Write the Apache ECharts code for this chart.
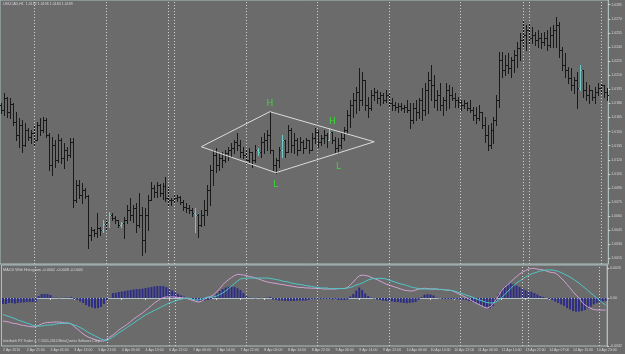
<!DOCTYPE html>
<html><head><meta charset="utf-8">
<script src="https://cdn.jsdelivr.net/npm/echarts@6/dist/echarts.min.js"></script>
<style>html,body{margin:0;padding:0;background:#6b6b6b;}#c{width:625px;height:354px;}</style>
</head><body><div id="c"></div>
<script>
const tickLabels = ["2 Apr 2010","2 Apr 21:00","3 Apr 05:00","3 Apr 13:00","3 Apr 21:00","4 Apr 05:00","4 Apr 13:00","6 Apr 22:00","7 Apr 06:00","7 Apr 14:00","7 Apr 22:00","8 Apr 06:00","8 Apr 14:00","8 Apr 22:00","9 Apr 06:00","9 Apr 14:00","9 Apr 22:00","10 Apr 06:00","10 Apr 14:00","10 Apr 22:00","11 Apr 06:00","11 Apr 14:00","13 Apr 22:00","14 Apr 07:00","14 Apr 15:00","14 Apr 23:00"];
const priceTicks = [1.0015,1.0030,1.0045,1.0060,1.0075,1.0090,1.0105,1.0120,1.0135,1.0150,1.0165,1.0180,1.0195,1.0210,1.0225,1.0240,1.0255,1.0270,1.0285];
const macdTicks = [0.0020, 0, -0.0032];

const opens = [1.0178,1.0173,1.0186,1.0171,1.0179,1.0160,1.0146,1.0157,1.0136,1.0152,
1.0144,1.0148,1.0141,1.0157,1.0152,1.0162,1.0146,1.0114,1.0136,1.0120,
1.0141,1.0122,1.0130,1.0125,1.0139,1.0077,1.0093,1.0083,1.0088,1.0081,
1.0040,1.0045,1.0042,1.0047,1.0045,1.0052,1.0054,1.0061,1.0058,1.0056,
1.0051,1.0053,1.0056,1.0067,1.0061,1.0069,1.0051,1.0061,1.0035,1.0061,
1.0077,1.0090,1.0086,1.0093,1.0085,1.0092,1.0079,1.0077,1.0077,1.0079,
1.0080,1.0075,1.0070,1.0069,1.0067,1.0063,1.0061,1.0051,1.0061,1.0067,
1.0088,1.0109,1.0125,1.0114,1.0122,1.0120,1.0127,1.0130,1.0133,1.0139,
1.0136,1.0128,1.0125,1.0120,1.0128,1.0120,1.0130,1.0128,1.0139,1.0141,
1.0146,1.0130,1.0114,1.0120,1.0130,1.0141,1.0128,1.0152,1.0136,1.0141,
1.0130,1.0139,1.0133,1.0141,1.0130,1.0143,1.0150,1.0139,1.0143,1.0146,
1.0141,1.0150,1.0141,1.0133,1.0136,1.0143,1.0152,1.0168,1.0178,1.0184,
1.0192,1.0184,1.0205,1.0178,1.0175,1.0189,1.0192,1.0186,1.0189,1.0184,
1.0189,1.0180,1.0178,1.0176,1.0177,1.0175,1.0176,1.0173,1.0162,1.0175,
1.0171,1.0184,1.0173,1.0194,1.0205,1.0200,1.0184,1.0189,1.0178,1.0184,
1.0194,1.0189,1.0186,1.0184,1.0181,1.0178,1.0180,1.0175,1.0173,1.0168,
1.0164,1.0171,1.0157,1.0146,1.0136,1.0152,1.0162,1.0184,1.0226,1.0216,
1.0221,1.0218,1.0226,1.0231,1.0239,1.0247,1.0253,1.0258,1.0250,1.0253,
1.0247,1.0250,1.0245,1.0250,1.0242,1.0253,1.0258,1.0263,1.0237,1.0221,
1.0216,1.0207,1.0200,1.0205,1.0196,1.0216,1.0194,1.0189,1.0194,1.0187,
1.0192,1.0196,1.0200,1.0192];
const highs = [1.0180,1.0191,1.0187,1.0186,1.0180,1.0171,1.0164,1.0162,1.0159,1.0154,
1.0152,1.0156,1.0160,1.0164,1.0166,1.0164,1.0148,1.0144,1.0141,1.0147,
1.0143,1.0138,1.0134,1.0143,1.0143,1.0098,1.0098,1.0095,1.0090,1.0083,
1.0048,1.0046,1.0063,1.0048,1.0056,1.0056,1.0064,1.0063,1.0060,1.0056,
1.0054,1.0059,1.0072,1.0079,1.0072,1.0074,1.0085,1.0070,1.0069,1.0083,
1.0096,1.0093,1.0096,1.0094,1.0095,1.0102,1.0091,1.0079,1.0083,1.0083,
1.0081,1.0077,1.0074,1.0072,1.0069,1.0069,1.0062,1.0067,1.0077,1.0093,
1.0114,1.0130,1.0133,1.0127,1.0128,1.0130,1.0134,1.0138,1.0141,1.0148,
1.0141,1.0134,1.0130,1.0133,1.0128,1.0136,1.0133,1.0144,1.0148,1.0152,
1.0171,1.0130,1.0122,1.0134,1.0146,1.0141,1.0157,1.0154,1.0148,1.0143,
1.0144,1.0141,1.0143,1.0141,1.0148,1.0154,1.0152,1.0146,1.0152,1.0148,
1.0154,1.0150,1.0144,1.0143,1.0148,1.0155,1.0173,1.0184,1.0191,1.0197,
1.0218,1.0213,1.0205,1.0187,1.0194,1.0196,1.0194,1.0192,1.0191,1.0194,
1.0191,1.0186,1.0181,1.0180,1.0180,1.0178,1.0184,1.0180,1.0180,1.0184,
1.0186,1.0196,1.0202,1.0213,1.0221,1.0210,1.0194,1.0202,1.0187,1.0202,
1.0200,1.0197,1.0191,1.0187,1.0184,1.0184,1.0181,1.0184,1.0176,1.0176,
1.0178,1.0171,1.0166,1.0157,1.0159,1.0166,1.0189,1.0235,1.0235,1.0231,
1.0234,1.0229,1.0237,1.0245,1.0255,1.0269,1.0263,1.0266,1.0261,1.0256,
1.0258,1.0255,1.0256,1.0258,1.0261,1.0263,1.0272,1.0267,1.0240,1.0234,
1.0219,1.0218,1.0208,1.0213,1.0221,1.0216,1.0203,1.0200,1.0194,1.0197,
1.0202,1.0202,1.0200,1.0196];
const lows = [1.0170,1.0168,1.0166,1.0164,1.0157,1.0141,1.0134,1.0128,1.0135,1.0141,
1.0138,1.0136,1.0141,1.0146,1.0150,1.0144,1.0109,1.0104,1.0112,1.0118,
1.0117,1.0111,1.0120,1.0123,1.0070,1.0075,1.0079,1.0074,1.0079,1.0026,
1.0035,1.0039,1.0038,1.0040,1.0043,1.0045,1.0048,1.0056,1.0053,1.0048,
1.0048,1.0037,1.0053,1.0056,1.0054,1.0043,1.0048,1.0019,1.0022,1.0045,
1.0077,1.0080,1.0080,1.0081,1.0078,1.0076,1.0071,1.0072,1.0074,1.0076,
1.0073,1.0067,1.0064,1.0063,1.0060,1.0043,1.0038,1.0050,1.0051,1.0061,
1.0072,1.0093,1.0107,1.0109,1.0112,1.0118,1.0120,1.0123,1.0127,1.0130,
1.0123,1.0122,1.0117,1.0118,1.0112,1.0118,1.0125,1.0123,1.0127,1.0130,
1.0127,1.0109,1.0106,1.0112,1.0123,1.0123,1.0128,1.0128,1.0127,1.0125,
1.0130,1.0127,1.0133,1.0127,1.0130,1.0138,1.0134,1.0136,1.0138,1.0134,
1.0141,1.0138,1.0128,1.0127,1.0133,1.0141,1.0148,1.0155,1.0166,1.0170,
1.0173,1.0178,1.0173,1.0166,1.0173,1.0184,1.0180,1.0178,1.0180,1.0181,
1.0176,1.0173,1.0173,1.0171,1.0173,1.0171,1.0171,1.0154,1.0159,1.0162,
1.0164,1.0162,1.0168,1.0170,1.0184,1.0176,1.0173,1.0173,1.0168,1.0173,
1.0175,1.0184,1.0176,1.0176,1.0173,1.0175,1.0173,1.0171,1.0162,1.0159,
1.0162,1.0154,1.0139,1.0130,1.0133,1.0138,1.0157,1.0176,1.0208,1.0210,
1.0212,1.0208,1.0213,1.0219,1.0226,1.0240,1.0237,1.0244,1.0244,1.0242,
1.0240,1.0239,1.0242,1.0237,1.0240,1.0240,1.0240,1.0229,1.0216,1.0208,
1.0202,1.0194,1.0191,1.0175,1.0194,1.0187,1.0184,1.0180,1.0184,1.0180,
1.0189,1.0191,1.0187,1.0184];
const closes = [1.0173,1.0186,1.0171,1.0179,1.0160,1.0146,1.0157,1.0136,1.0152,1.0144,
1.0148,1.0141,1.0157,1.0152,1.0162,1.0146,1.0114,1.0136,1.0120,1.0141,
1.0122,1.0130,1.0125,1.0139,1.0077,1.0093,1.0083,1.0088,1.0081,1.0040,
1.0045,1.0042,1.0047,1.0045,1.0052,1.0054,1.0061,1.0058,1.0056,1.0051,
1.0053,1.0056,1.0067,1.0061,1.0069,1.0051,1.0061,1.0035,1.0061,1.0077,
1.0090,1.0086,1.0093,1.0085,1.0092,1.0079,1.0077,1.0077,1.0079,1.0080,
1.0075,1.0070,1.0069,1.0067,1.0063,1.0061,1.0051,1.0061,1.0067,1.0088,
1.0109,1.0125,1.0114,1.0122,1.0120,1.0127,1.0130,1.0133,1.0139,1.0136,
1.0128,1.0125,1.0120,1.0128,1.0120,1.0130,1.0128,1.0139,1.0141,1.0146,
1.0130,1.0114,1.0120,1.0130,1.0141,1.0128,1.0152,1.0136,1.0141,1.0130,
1.0139,1.0133,1.0141,1.0130,1.0143,1.0150,1.0139,1.0143,1.0146,1.0141,
1.0150,1.0141,1.0133,1.0136,1.0143,1.0152,1.0168,1.0178,1.0184,1.0192,
1.0184,1.0205,1.0178,1.0175,1.0189,1.0192,1.0186,1.0189,1.0184,1.0189,
1.0180,1.0178,1.0176,1.0177,1.0175,1.0176,1.0173,1.0162,1.0175,1.0171,
1.0184,1.0173,1.0194,1.0205,1.0200,1.0184,1.0189,1.0178,1.0184,1.0194,
1.0189,1.0186,1.0184,1.0181,1.0178,1.0180,1.0175,1.0173,1.0168,1.0164,
1.0171,1.0157,1.0146,1.0136,1.0152,1.0162,1.0184,1.0226,1.0216,1.0221,
1.0218,1.0226,1.0231,1.0239,1.0247,1.0253,1.0258,1.0250,1.0253,1.0247,
1.0250,1.0245,1.0250,1.0242,1.0253,1.0258,1.0263,1.0237,1.0221,1.0216,
1.0207,1.0200,1.0205,1.0196,1.0216,1.0194,1.0189,1.0194,1.0187,1.0192,
1.0196,1.0200,1.0192,1.0189];
const cyanBars = [34,36,40,65,86,94,110,194];
const separators = [11,35,56,58,82,106,130,154,175,177,201];
const diamondIdx = [67,90,125,92,67];
const diamondPrice = [1.01339,1.01712,1.01392,1.01063,1.01339];
const patternIdx = [90,92,111,113];
const patternPrice = [1.01797,1.00935,1.01605,1.01126];
const patternText = ['H','L','H','L'];

const macdSignal = [-0.00110,-0.00117,-0.00123,-0.00130,-0.00137,-0.00147,-0.00153,-0.00160,-0.00167,-0.00173,
-0.00183,-0.00187,-0.00187,-0.00187,-0.00183,-0.00180,-0.00180,-0.00177,-0.00173,-0.00170,
-0.00170,-0.00167,-0.00167,-0.00173,-0.00180,-0.00187,-0.00197,-0.00207,-0.00220,-0.00233,
-0.00243,-0.00253,-0.00263,-0.00273,-0.00280,-0.00283,-0.00273,-0.00260,-0.00247,-0.00233,
-0.00220,-0.00207,-0.00193,-0.00180,-0.00167,-0.00153,-0.00140,-0.00127,-0.00113,-0.00103,
-0.00093,-0.00083,-0.00073,-0.00063,-0.00053,-0.00043,-0.00033,-0.00027,-0.00020,-0.00013,
-0.00007,-0.00003,0,-0.00003,-0.00010,-0.00013,-0.00013,-0.00007,0,0.00007,
0.00003,0.00007,0.00013,0.00023,0.00033,0.00047,0.00063,0.00080,0.00097,0.00113,
0.00127,0.00130,0.00133,0.00133,0.00133,0.00133,0.00133,0.00133,0.00133,0.00133,
0.00130,0.00127,0.00123,0.00120,0.00113,0.00110,0.00107,0.00100,0.00097,0.00093,
0.00090,0.00087,0.00083,0.00080,0.00077,0.00073,0.00070,0.00067,0.00067,0.00067,
0.00063,0.00063,0.00063,0.00063,0.00063,0.00063,0.00067,0.00070,0.00077,0.00087,
0.00093,0.00100,0.00110,0.00120,0.00127,0.00130,0.00131,0.00131,0.00130,0.00127,
0.00120,0.00113,0.00107,0.00100,0.00093,0.00090,0.00083,0.00077,0.00070,0.00067,
0.00063,0.00060,0.00060,0.00060,0.00060,0.00060,0.00060,0.00057,0.00057,0.00053,
0.00053,0.00050,0.00047,0.00040,0.00033,0.00027,0.00020,0.00013,0.00007,-0.00003,
-0.00010,-0.00017,-0.00023,-0.00030,-0.00033,-0.00033,-0.00027,-0.00013,0.00003,0.00023,
0.00043,0.00063,0.00083,0.00100,0.00113,0.00127,0.00140,0.00150,0.00160,0.00167,
0.00173,0.00180,0.00183,0.00187,0.00187,0.00187,0.00183,0.00177,0.00170,0.00160,
0.00150,0.00140,0.00127,0.00113,0.00100,0.00083,0.00067,0.00050,0.00033,0.00017,
0,-0.00017,-0.00033,-0.00047];
const macdMain = [-0.00153,-0.00157,-0.00160,-0.00167,-0.00170,-0.00173,-0.00180,-0.00183,-0.00187,-0.00190,
-0.00193,-0.00190,-0.00183,-0.00173,-0.00167,-0.00163,-0.00163,-0.00160,-0.00160,-0.00160,
-0.00163,-0.00167,-0.00167,-0.00173,-0.00190,-0.00207,-0.00223,-0.00240,-0.00253,-0.00263,
-0.00270,-0.00277,-0.00283,-0.00287,-0.00287,-0.00273,-0.00260,-0.00247,-0.00233,-0.00213,
-0.00200,-0.00187,-0.00173,-0.00157,-0.00140,-0.00127,-0.00113,-0.00100,-0.00083,-0.00067,
-0.00050,-0.00033,-0.00020,-0.00007,0.00003,0.00007,0.00007,0.00007,0.00007,0.00003,
0.00003,0,-0.00003,-0.00010,-0.00017,-0.00023,-0.00027,-0.00020,-0.00007,0.00003,
0.00010,0.00023,0.00040,0.00063,0.00087,0.00107,0.00123,0.00137,0.00150,0.00157,
0.00157,0.00153,0.00150,0.00143,0.00140,0.00133,0.00127,0.00120,0.00113,0.00107,
0.00103,0.00100,0.00097,0.00093,0.00090,0.00087,0.00083,0.00080,0.00077,0.00073,
0.00070,0.00070,0.00067,0.00067,0.00065,0.00065,0.00063,0.00063,0.00060,0.00060,
0.00060,0.00060,0.00060,0.00063,0.00063,0.00063,0.00070,0.00087,0.00107,0.00130,
0.00147,0.00153,0.00150,0.00147,0.00137,0.00130,0.00123,0.00113,0.00103,0.00093,
0.00087,0.00080,0.00073,0.00067,0.00060,0.00053,0.00050,0.00047,0.00047,0.00053,
0.00060,0.00063,0.00065,0.00063,0.00060,0.00060,0.00060,0.00057,0.00057,0.00053,
0.00053,0.00050,0.00043,0.00033,0.00023,0.00013,0.00003,-0.00007,-0.00020,-0.00030,
-0.00040,-0.00050,-0.00060,-0.00067,-0.00060,-0.00040,-0.00013,0.00017,0.00050,0.00073,
0.00087,0.00107,0.00127,0.00143,0.00160,0.00173,0.00183,0.00193,0.00197,0.00197,
0.00193,0.00190,0.00187,0.00180,0.00173,0.00170,0.00167,0.00153,0.00133,0.00113,
0.00090,0.00067,0.00043,0.00020,0,-0.00027,-0.00047,-0.00060,-0.00070,-0.00077,
-0.00080,-0.00080,-0.00080,-0.00080];
const macdHist = [-0.00040,-0.00040,-0.00033,-0.00033,-0.00037,-0.00033,-0.00030,-0.00030,-0.00027,-0.00027,
-0.00027,-0.00027,0.00013,0.00027,0.00027,0.00027,0.00020,0.00003,0.00003,-0.00002,
0.00002,0.00003,0.00003,0.00007,-0.00007,-0.00013,-0.00023,-0.00033,-0.00047,-0.00057,
-0.00063,-0.00069,-0.00067,-0.00060,-0.00040,-0.00013,0.00002,0.00033,0.00035,0.00040,
0.00043,0.00047,0.00050,0.00053,0.00057,0.00060,0.00060,0.00063,0.00067,0.00070,
0.00073,0.00077,0.00080,0.00080,0.00080,0.00073,0.00063,0.00050,0.00037,0.00027,
0.00017,0.00009,0.00003,-0.00002,-0.00007,-0.00017,-0.00020,-0.00020,-0.00017,-0.00013,
-0.00007,0.00007,0.00030,0.00047,0.00060,0.00070,0.00075,0.00075,0.00073,0.00065,
0.00053,0.00033,0.00013,0.00003,0.00002,-0.00002,0.00003,-0.00002,0.00002,0.00003,
0.00007,-0.00010,-0.00013,-0.00017,-0.00017,-0.00020,-0.00020,-0.00020,-0.00020,-0.00017,
-0.00017,-0.00017,-0.00017,-0.00013,-0.00010,-0.00007,-0.00007,-0.00007,-0.00007,-0.00007,
-0.00007,-0.00010,-0.00010,-0.00013,-0.00013,-0.00013,-0.00010,0.00010,0.00027,0.00050,
0.00070,0.00053,0.00030,0.00013,0.00003,-0.00003,-0.00010,-0.00013,-0.00017,-0.00020,
-0.00020,-0.00023,-0.00027,-0.00027,-0.00030,-0.00033,-0.00035,-0.00033,-0.00030,-0.00027,
-0.00013,0.00007,0.00023,0.00025,0.00023,0.00017,0.00003,-0.00003,-0.00007,-0.00007,
-0.00007,-0.00007,-0.00007,-0.00007,-0.00010,-0.00010,-0.00013,-0.00020,-0.00027,-0.00033,
-0.00040,-0.00050,-0.00060,-0.00067,-0.00069,-0.00053,-0.00027,0.00027,0.00053,0.00077,
0.00090,0.00097,0.00093,0.00083,0.00073,0.00063,0.00053,0.00047,0.00042,0.00033,
0.00023,0.00013,0.00007,0.00002,-0.00007,-0.00013,-0.00023,-0.00033,-0.00043,-0.00053,
-0.00067,-0.00077,-0.00087,-0.00091,-0.00090,-0.00087,-0.00080,-0.00069,-0.00057,-0.00043,
-0.00033,-0.00027,-0.00023,-0.00020];

const categories = opens.map((_, i) => String(i));
const N = categories.length;
const last = N - 1;
const headerText = 'USDCAD,H1  ' + [opens[last], highs[last], lows[last], closes[last]].map(v => v.toFixed(4)).join(' ');
const macdText = 'MACD With Histogram ' + [macdHist[last], macdMain[last], macdSignal[last]].map(v => v.toFixed(4)).join(' ');

const txt = '#d6d6d6';
const frame = '#aebfbf';
const font = 'Liberation Sans';
const showEvery8 = (idx) => idx % 8 === 0;

function renderOHLC(params, api) {
  const i = api.value(0);
  const cx = Math.round(api.coord([i, api.value(2)])[0]) + 0.5;
  const yH = Math.round(api.coord([i, api.value(2)])[1]);
  const yL = Math.round(api.coord([i, api.value(3)])[1]) + 1;
  const yO = Math.round(api.coord([i, api.value(1)])[1]) + 0.5;
  const yC = Math.round(api.coord([i, api.value(4)])[1]) + 0.5;
  const col = api.value(5) === 1 ? '#6cc8cb' : '#191919';
  return {type: 'group', children: [
    {type: 'line', shape: {x1: cx, y1: yH, x2: cx, y2: yL}, style: {stroke: col, lineWidth: 1}},
    {type: 'line', shape: {x1: cx - 1.5, y1: yO, x2: cx, y2: yO}, style: {stroke: col, lineWidth: 1}},
    {type: 'line', shape: {x1: cx, y1: yC, x2: cx + 1.5, y2: yC}, style: {stroke: col, lineWidth: 1}}
  ]};
}

function renderLabel(params, api) {
  const p = api.coord([api.value(0), api.value(1)]);
  return {type: 'text', x: p[0], y: p[1],
    style: {text: patternText[params.dataIndex], fill: '#3bd83b', font: '9px "DejaVu Sans"', align: 'center', verticalAlign: 'middle'}};
}

const sepLine = {
  silent: true, symbol: ['none', 'none'], label: {show: false}, animation: false,
  lineStyle: {color: '#d2d2d2', type: [1, 2], width: 1},
  emphasis: {disabled: true},
  data: separators.map(i => ({xAxis: i}))
};

const chart = echarts.init(document.getElementById('c'), null, {renderer: 'canvas'});
chart.setOption({
  animation: false,
  backgroundColor: '#6b6b6b',
  title: [
    {text: headerText, left: 3, top: 2, padding: 0, textStyle: {color: txt, fontSize: 3.6, fontWeight: 'normal', fontFamily: font}},
    {text: macdText, left: 3, top: 268, padding: 0, textStyle: {color: txt, fontSize: 3.8, fontWeight: 'normal', fontFamily: font}},
    {text: 'Interbank FX Trader 4, \u00a9 2001-2010 MetaQuotes Software Corp.', left: 3, top: 340, padding: 0, textStyle: {color: txt, fontSize: 3.4, fontWeight: 'normal', fontFamily: font}}
  ],
  grid: [
    {left: 0, top: 0, width: 609, height: 264, show: true, borderColor: frame, borderWidth: 1, backgroundColor: 'transparent'},
    {left: 0, top: 265, width: 609, height: 81, show: true, borderColor: frame, borderWidth: 1, backgroundColor: 'transparent'}
  ],
  xAxis: [
    {type: 'category', gridIndex: 0, data: categories, show: false, boundaryGap: true},
    {type: 'category', gridIndex: 1, data: categories, boundaryGap: true,
      axisLine: {show: true, lineStyle: {color: frame, width: 1}},
      axisTick: {show: true, interval: showEvery8, alignWithLabel: true, length: 2, lineStyle: {color: txt}},
      axisLabel: {show: true, interval: showEvery8, formatter: (v, idx) => tickLabels[idx / 8] || '', align: 'left', margin: 2, fontSize: 3.5, color: txt, fontFamily: font},
      splitLine: {show: false}}
  ],
  yAxis: [
    {type: 'value', gridIndex: 0, position: 'right', min: 1.000915, max: 1.0290,
      axisLine: {show: true, lineStyle: {color: frame}},
      axisTick: {show: true, length: 2, customValues: priceTicks, lineStyle: {color: txt}},
      axisLabel: {show: true, customValues: priceTicks, formatter: v => v.toFixed(4), margin: 3, fontSize: 3.5, color: txt, fontFamily: font},
      splitLine: {show: false}},
    {type: 'value', gridIndex: 1, position: 'right', min: -0.0032, max: 0.0022,
      axisLine: {show: true, lineStyle: {color: frame}},
      axisTick: {show: true, length: 2, customValues: macdTicks, lineStyle: {color: txt}},
      axisLabel: {show: true, customValues: macdTicks, formatter: v => (v === 0 ? '0.00' : v.toFixed(4)), margin: 3, fontSize: 3.5, color: txt, fontFamily: font},
      splitLine: {show: false}}
  ],
  series: [
    {type: 'custom', name: 'USDCAD', xAxisIndex: 0, yAxisIndex: 0, z: 3,
      renderItem: renderOHLC,
      encode: {x: 0, y: [1, 2, 3, 4]},
      data: opens.map((o, i) => [i, o, highs[i], lows[i], closes[i], cyanBars.includes(i) ? 1 : 0])},
    {type: 'line', name: 'diamond', xAxisIndex: 0, yAxisIndex: 0, z: 4,
      data: diamondIdx.map((i, k) => [i, diamondPrice[k]]),
      symbol: 'none', lineStyle: {color: '#dcdcdc', width: 1}, silent: true,
      markLine: sepLine},
    {type: 'custom', name: 'pattern', xAxisIndex: 0, yAxisIndex: 0, z: 5, silent: true,
      renderItem: renderLabel,
      encode: {x: 0, y: 1},
      data: patternIdx.map((i, k) => [i, patternPrice[k]])},
    {type: 'bar', name: 'hist', xAxisIndex: 1, yAxisIndex: 1, z: 2,
      data: macdHist, barWidth: 2, itemStyle: {color: '#2d2d86'}, silent: true,
      markLine: sepLine},
    {type: 'line', name: 'macd', xAxisIndex: 1, yAxisIndex: 1, z: 3,
      data: macdMain, symbol: 'none', lineStyle: {color: '#d2a2d0', width: 1}, silent: true},
    {type: 'line', name: 'signal', xAxisIndex: 1, yAxisIndex: 1, z: 3,
      data: macdSignal, symbol: 'none', lineStyle: {color: '#4ec8c8', width: 1}, silent: true}
  ]
});
</script>
</body></html>
